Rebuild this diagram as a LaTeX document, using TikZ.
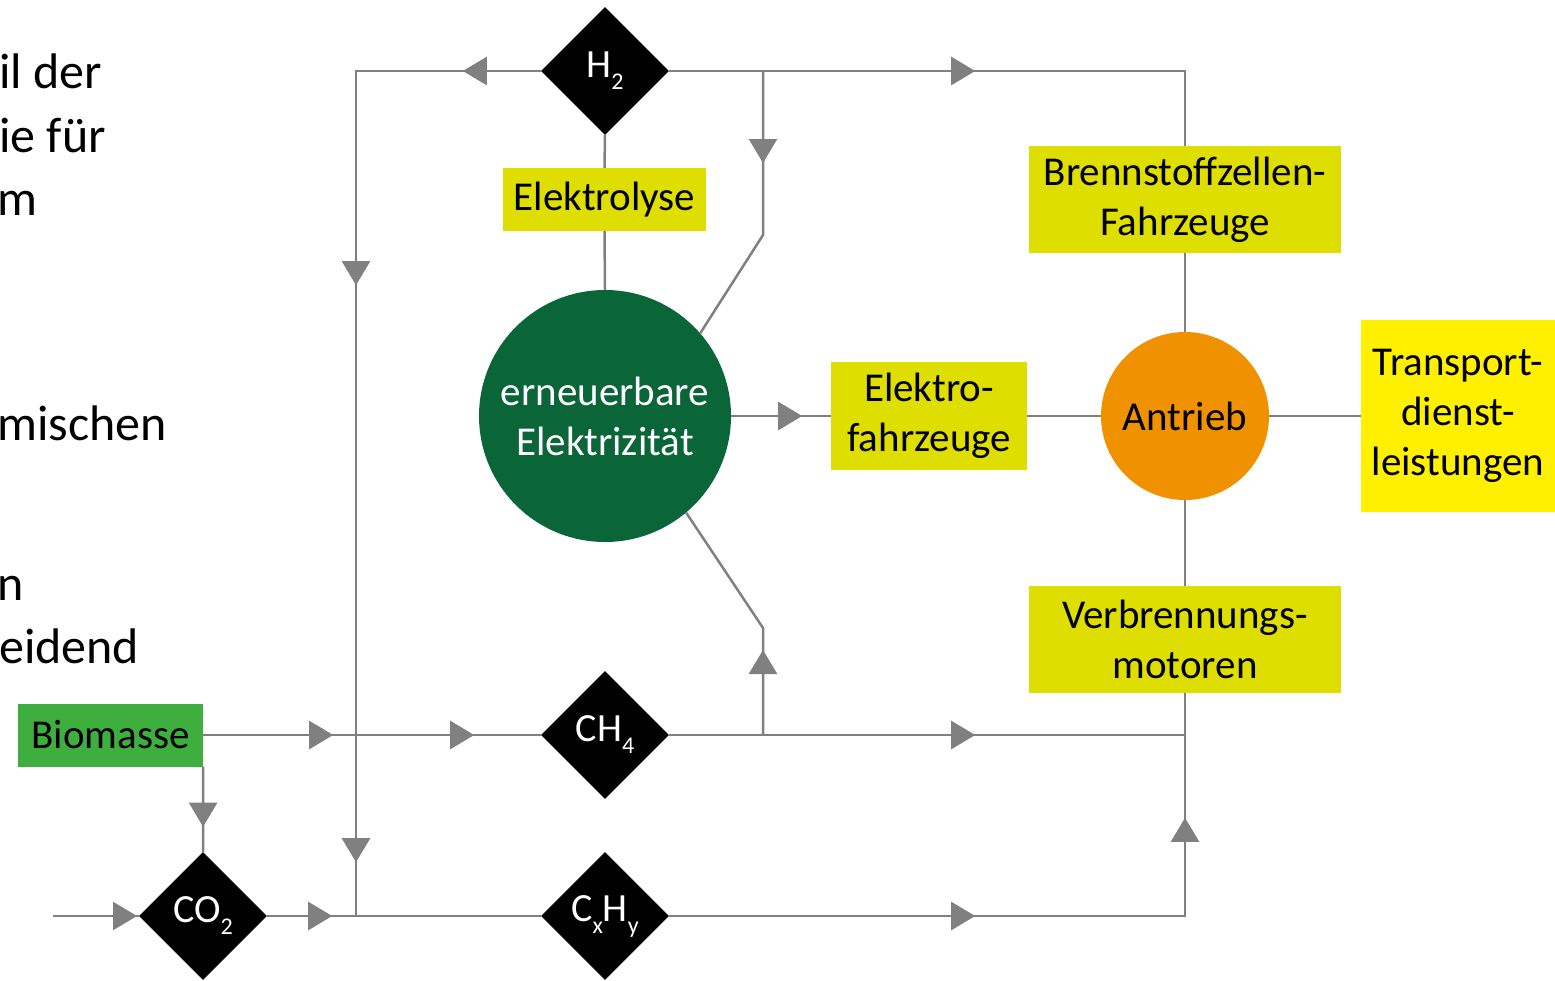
\documentclass[tikz,border=0pt]{standalone}
\usepackage{fontspec}
\setmainfont{Carlito}
\usetikzlibrary{shapes.geometric,arrows.meta,decorations.markings}
\definecolor{linegray}{RGB}{128,128,128}
\definecolor{boxyel}{RGB}{222,222,0}
\definecolor{trans}{RGB}{255,240,0}
\definecolor{biogreen}{RGB}{62,174,62}
\definecolor{eegreen}{RGB}{10,102,56}
\definecolor{antorange}{RGB}{240,145,0}
\newcommand\sbs[1]{\raisebox{-12pt}{\fontsize{24}{24}\selectfont #1}}
\tikzset{
  x=1pt, y=-1pt,
  tri/.tip={Triangle[length=24pt,width=28pt]},
  flow/.style={color=linegray, line width=2.5pt},
  marks/.style={postaction={decorate,decoration={markings,#1}}},
  dia/.style={shape=diamond, fill=black, text=white, minimum width=128pt, minimum height=128pt, inner sep=0pt, font=\fontsize{40}{42}\selectfont},
  ybox/.style={rectangle, fill=boxyel, inner sep=0pt, align=center, font=\fontsize{41}{50}\selectfont},
  lefttxt/.style={anchor=base west, inner sep=0pt, font=\fontsize{50}{60}\selectfont},
}
\begin{document}
\begin{tikzpicture}
\useasboundingbox (0,0) rectangle (1555,980);
% left text fragments
\node[lefttxt] (t1) at (-1,88) {il der};
\node[lefttxt] (t2) at (-1,152) {ie für};
\node[lefttxt] (t3) at (-3,215) {m};
\node[lefttxt] (t4) at (-3,440) {mischen};
\node[lefttxt] (t5) at (-3,600) {n};
\node[lefttxt] (t6) at (-1,663) {eidend};

% nodes
\node[dia] (h2) at (605,71) {H\sbs{2}};
\node[dia] (ch4) at (605,735) {CH\sbs{4}};
\node[dia] (cxhy) at (605,916) {C\sbs{x}H\sbs{y}};
\node[dia] (co2) at (203,916) {CO\sbs{2}};
\node[circle, fill=eegreen, text=white, minimum size=252pt, inner sep=0pt, align=center, font=\fontsize{41}{50}\selectfont] (ee) at (605,416) {erneuerbare\\Elektrizität};
\node[circle, fill=antorange, text=black, minimum size=168pt, inner sep=0pt, font=\fontsize{41}{50}\selectfont] (an) at (1185,416) {Antrieb};
\node[ybox, minimum width=203pt, minimum height=63pt] (ely) at (604.5,199.5) {Elektrolyse};
\node[ybox, minimum width=312pt, minimum height=107pt] (bz) at (1185,199.5) {Brennstoffzellen-\\Fahrzeuge};
\node[ybox, minimum width=196pt, minimum height=108pt] (ef) at (929,416) {Elektro-\\fahrzeuge};
\node[ybox, minimum width=312pt, minimum height=107pt] (vm) at (1185,639.5) {Verbrennungs-\\motoren};
\node[ybox, fill=trans, minimum width=194pt, minimum height=192pt] (tr) at (1458,416) {Transport-\\dienst-\\leistungen};
\node[ybox, fill=biogreen, minimum width=185pt, minimum height=63pt] (bio) at (110.5,735) {Biomasse};

% coordinates
\coordinate (hl) at (356,71);
\coordinate (hb) at (356,916);
\coordinate (hr) at (1185,71);
\coordinate (j1) at (763,71);
\coordinate (k1) at (763,235);
\coordinate (j2) at (763,735);
\coordinate (k2) at (763,628);
\coordinate (cr) at (1185,735);
\coordinate (xr) at (1185,916);
\coordinate (in) at (53,916);

% connectors
\draw[flow, marks={mark=at position 78pt with {\arrow{tri}}, mark=at position 399pt with {\arrow{tri}}, mark=at position 976pt with {\arrow{tri}}}] (h2.west) -- (hl) -- (hb);
\draw[flow, marks={mark=at position 306pt with {\arrow{tri}}}] (h2.east) -- (hr) -- (bz.north);
\draw[flow, marks={mark=at position 92pt with {\arrow{tri}}}] (j1) -- (k1) -- (ee.41);
\draw[flow, marks={mark=at position 85pt with {\arrow{tri}}}] (j2) -- (k2) -- (ee.-50);
\draw[flow] (h2.south) -- (ely.north);
\draw[flow] (ely.south) -- (ee.north);
\draw[flow, marks={mark=at position 71pt with {\arrow{tri}}}] (ee.east) -- (ef.west);
\draw[flow] (ef.east) -- (an.west);
\draw[flow] (an.east) -- (tr.west);
\draw[flow] (bz.south) -- (an.north);
\draw[flow] (an.south) -- (vm.north);
\draw[flow, marks={mark=at position 306pt with {\arrow{tri}}}] (ch4.east) -- (cr);
\draw[flow, marks={mark=at position 306pt with {\arrow{tri}}, mark=at position 614pt with {\arrow{tri}}}] (cxhy.east) -- (xr) -- (vm.south);
\draw[flow, marks={mark=at position 130pt with {\arrow{tri}}, mark=at position 271pt with {\arrow{tri}}}] (bio.east) -- (ch4.west);
\draw[flow, marks={mark=at position 60pt with {\arrow{tri}}}] (bio.south east) -- (co2.north);
\draw[flow, marks={mark=at position 84pt with {\arrow{tri}}}] (in) -- (co2.west);
\draw[flow, marks={mark=at position 65pt with {\arrow{tri}}}] (co2.east) -- (cxhy.west);
\end{tikzpicture}
\end{document}
